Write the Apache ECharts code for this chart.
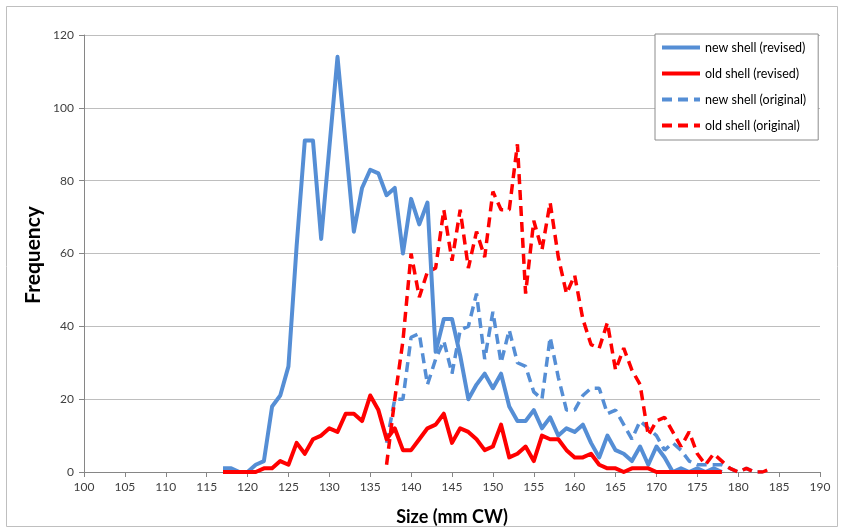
<!DOCTYPE html>
<html>
<head>
<meta charset="utf-8">
<script src="https://cdn.jsdelivr.net/npm/echarts@6/dist/echarts.min.js"></script>
<style>
html,body{margin:0;padding:0;background:#fff;}
#chart{width:843px;height:532px;}
</style>
</head>
<body>
<div id="chart"></div>
<script>
// Size classes (mm CW)
var revisedStart = 117;
var originalStart = 137;
var xTicks = [100,105,110,115,120,125,130,135,140,145,150,155,160,165,170,175,180,185,190];
var yTicks = [0,20,40,60,80,100,120];

// new shell (revised), sizes 117..178
var newShellRevised = [1,1,0,0,2,3,18,21,29,62,91,91,64,89,114,90,66,78,83,82,76,78,60,75,68,74,33,42,42,32,20,24,27,23,27,18,14,14,17,12,15,10,12,11,13,8,4,10,6,5,3,7,2,7,4,0,1,0,1,0,1,0];
// old shell (revised), sizes 117..178
var oldShellRevised = [0,0,0,0,0,1,1,3,2,8,5,9,10,12,11,16,16,14,21,17,9,12,6,6,9,12,13,16,8,12,11,9,6,7,13,4,5,7,3,10,9,9,6,4,4,5,2,1,1,0,1,1,1,0,0,0,0,0,0,0,0,0];
// new shell (original), sizes 137..183
var newShellOriginal = [8,20,20,37,38,24,31,36,27,39,40,49,31,44,30,39,30,29,22,20,37,26,17,17,21,23,23,16,17,13,9,14,12,10,6,8,6,3,2,2,2,2,1,0,1,0,0];
// old shell (original), sizes 137..184
var oldShellOriginal = [2,20,36,60,48,55,56,72,58,72,56,66,59,77,72,72,90,49,69,61,74,59,49,54,42,35,34,41,28,34,28,24,10,14,15,11,7,11,5,2,5,3,1,0,1,0,0,1];

var seriesNames = ['new shell (revised)','old shell (revised)','new shell (original)','old shell (original)'];

function pairs(start, arr){ return arr.map(function(v,i){ return [start+i, v]; }); }

var BLUE = '#558ED5', RED = '#FF0000';
var FONT = 'Lato';

var chart = echarts.init(document.getElementById('chart'), null, {renderer:'canvas'});
chart.setOption({
  animation:false,
  backgroundColor:'#fff',
  grid:{left:84, right:23, top:35, bottom:60, containLabel:false},
  xAxis:{
    type:'value', min:xTicks[0], max:xTicks[xTicks.length-1], interval:5,
    axisLine:{show:true, onZero:false, lineStyle:{color:'#868686', width:1}},
    axisTick:{show:true, inside:false, length:5, lineStyle:{color:'#868686'}},
    axisLabel:{color:'#404040', fontFamily:FONT, fontSize:12, margin:9},
    splitLine:{show:false}
  },
  yAxis:{
    type:'value', min:yTicks[0], max:yTicks[yTicks.length-1], interval:20,
    axisLine:{show:true, lineStyle:{color:'#868686', width:1}},
    axisTick:{show:true, inside:false, length:5, lineStyle:{color:'#868686'}},
    axisLabel:{color:'#404040', fontFamily:FONT, fontSize:12, margin:10},
    splitLine:{show:true, lineStyle:{color:'#BEBEBE', width:1}}
  },
  legend:{
    show:true, orient:'vertical', left:655, top:34,
    itemWidth:38, itemHeight:14, itemGap:13,
    padding:[7,12,8,5],
    borderColor:'#8c8c8c', borderWidth:1, backgroundColor:'#fff',
    itemStyle:{opacity:0},
    lineStyle:{width:4},
    textStyle:{color:'#000', fontFamily:FONT, fontSize:12.5},
    data:seriesNames
  },
  graphic:[
    {type:'rect', shape:{x:6.5, y:6.5, width:831, height:520}, style:{fill:'none', stroke:'#BFBFBF', lineWidth:1}, silent:true, z:-1},
    {type:'text', x:33, y:255, rotation:Math.PI/2, style:{text:'Frequency', fontFamily:FONT, fontSize:21, fontWeight:'bold', fill:'#000', textAlign:'center', textVerticalAlign:'middle'}},
    {type:'text', x:452, y:517, style:{text:'Size (mm CW)', fontFamily:FONT, fontSize:18, fontWeight:'bold', fill:'#000', textAlign:'center', textVerticalAlign:'middle'}}
  ],
  series:[
    {name:seriesNames[0], type:'line', data:pairs(revisedStart,newShellRevised), symbol:'none', showSymbol:false,
      lineStyle:{color:BLUE, width:4, join:'round'}, itemStyle:{color:BLUE}, z:3},
    {name:seriesNames[1], type:'line', data:pairs(revisedStart,oldShellRevised), symbol:'none', showSymbol:false,
      lineStyle:{color:RED, width:4, join:'round'}, itemStyle:{color:RED}, z:4},
    {name:seriesNames[2], type:'line', data:pairs(originalStart,newShellOriginal), symbol:'none', showSymbol:false,
      lineStyle:{color:BLUE, width:3.5, type:[10,6]}, itemStyle:{color:BLUE}, z:2},
    {name:seriesNames[3], type:'line', data:pairs(originalStart,oldShellOriginal), symbol:'none', showSymbol:false,
      lineStyle:{color:RED, width:3.5, type:[10,6]}, itemStyle:{color:RED}, z:2}
  ]
});
</script>
</body>
</html>
